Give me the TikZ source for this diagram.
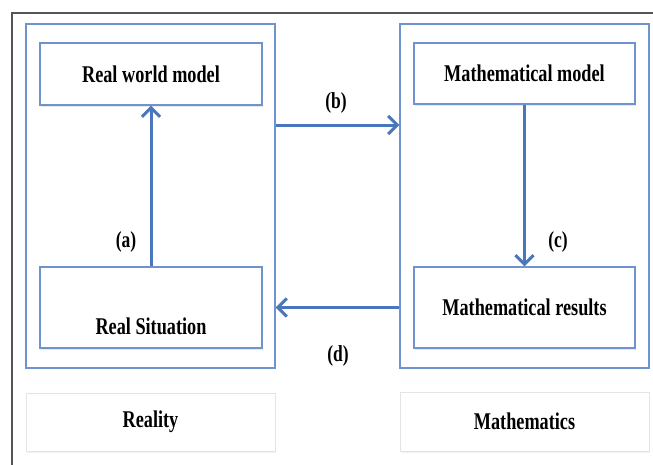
\documentclass[tikz,border=0pt]{standalone}
\usepackage{fontspec}
\setmainfont{Liberation Serif}[FakeStretch=0.76]
\usetikzlibrary{arrows.meta,shadows}
\definecolor{boxblue}{HTML}{6F93CF}
\definecolor{arrblue}{HTML}{4A76BD}
\definecolor{frame}{HTML}{555555}
\definecolor{lightframe}{HTML}{E4E4E4}
\tikzset{
  panel/.style={draw=boxblue, line width=1.3pt, fill=white, inner sep=0pt},
  stage/.style={draw=boxblue, line width=1.3pt, fill=white, inner sep=0pt,
    drop shadow={opacity=0.18, shadow xshift=0.8pt, shadow yshift=-2pt},
    font=\fontsize{24}{26}\selectfont\bfseries},
  domainbox/.style={draw=lightframe, line width=1pt, fill=white, inner sep=0pt,
    drop shadow={opacity=0.10, shadow xshift=0.8pt, shadow yshift=-1.5pt},
    font=\fontsize{24}{26}\selectfont\bfseries},
  txt/.style={font=\fontsize{24}{26}\selectfont\bfseries, inner sep=0pt},
  steplabel/.style={font=\fontsize{23}{25}\selectfont\bfseries, inner sep=0pt},
  arr/.style={draw=arrblue, line width=3pt, -{Straight Barb[length=9pt,width=18pt,line width=3pt]}},
}
\begin{document}
\begin{tikzpicture}[x=1pt,y=-1pt]
\useasboundingbox (0,0) rectangle (653,464);
\fill[white] (0,0) rectangle (653,464);
% outer frame (extends past the picture on the right and bottom)
\draw[frame, line width=1.4pt] (12,470) -- (12,13) -- (660,13);

% panels
\node[panel, minimum width=249pt, minimum height=344pt] (L) at (150.5,196) {};
\node[panel, minimum width=249pt, minimum height=344pt] (R) at (524.5,196) {};

% stage boxes
\node[stage, minimum width=222pt, minimum height=62pt] (rwm) at (151,74) {Real world model};
\node[stage, minimum width=222pt, minimum height=81pt] (rs) at (151,307.5) {};
\node[txt] (rst) at (151,326) {Real Situation};
\node[stage, minimum width=221pt, minimum height=61pt] (mm) at (524.5,73.5) {Mathematical model};
\node[stage, minimum width=221pt, minimum height=81pt] (mr) at (524.5,307.5) {Mathematical results};

% domain boxes
\node[domainbox, minimum width=249pt, minimum height=58pt] (real) at (150.5,422) {Reality};
\node[domainbox, minimum width=249pt, minimum height=59pt] (math) at (524.5,421.5) {Mathematics};

% connectors
\coordinate (bY) at (0,125);
\draw[arr] (rs.north) -- (rwm.south);
\draw[arr] (L.east |- bY) -- (R.west |- bY);
\draw[arr] (mm.south) -- (mr.north);
\draw[arr] (R.west |- mr.center) -- (L.east |- mr.center);

% step labels
\node[steplabel] (la) at (126,242) {(a)};
\node[steplabel] (lb) at (336,103) {(b)};
\node[steplabel] (lc) at (558,242) {(c)};
\node[steplabel] (ld) at (338,356) {(d)};
\end{tikzpicture}
\end{document}
